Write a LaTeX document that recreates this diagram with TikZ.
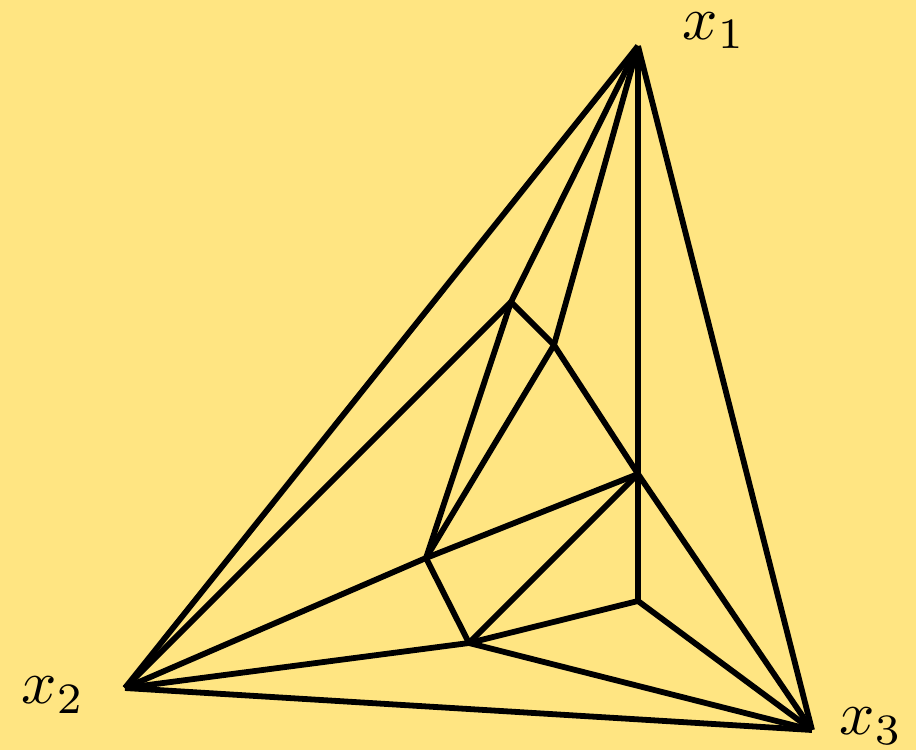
\documentclass[tikz,border=0pt]{standalone}
\usepackage{graphicx}
\definecolor{bg}{RGB}{255,229,130}
\begin{document}
\begin{tikzpicture}[x=1pt,y=-1pt,
  edge/.style={line width=5.8pt,black},
  lbl/.style={inner sep=0pt}]
\fill[bg] (0,0) rectangle (916,750);
\useasboundingbox (0,0) rectangle (916,750);
\coordinate (x1) at (638,46);
\coordinate (x2) at (125,688);
\coordinate (x3) at (812,730);
\coordinate (A) at (511,302);
\coordinate (B) at (554,345);
\coordinate (C) at (638,474);
\coordinate (D) at (426,558);
\coordinate (E) at (469,643);
\coordinate (F) at (638,601);
\draw[edge] (x1) -- (x2);
\draw[edge] (x1) -- (x3);
\draw[edge] (x2) -- (x3);
\draw[edge] (x1) -- (A);
\draw[edge] (x1) -- (B);
\draw[edge] (x1) -- (C);
\draw[edge] (A) -- (x2);
\draw[edge] (A) -- (B);
\draw[edge] (A) -- (D);
\draw[edge] (B) -- (C);
\draw[edge] (B) -- (D);
\draw[edge] (C) -- (D);
\draw[edge] (C) -- (E);
\draw[edge] (C) -- (F);
\draw[edge] (C) -- (x3);
\draw[edge] (D) -- (x2);
\draw[edge] (D) -- (E);
\draw[edge] (E) -- (x2);
\draw[edge] (E) -- (F);
\draw[edge] (E) -- (x3);
\draw[edge] (F) -- (x3);
\node[lbl] (l1) at (714,31) {\scalebox{6.2}{$x_1$}};
\node[lbl] (l2) at (53,695) {\scalebox{6.2}{$x_2$}};
\node[lbl] (l3) at (871,726) {\scalebox{6.2}{$x_3$}};
\end{tikzpicture}
\end{document}
